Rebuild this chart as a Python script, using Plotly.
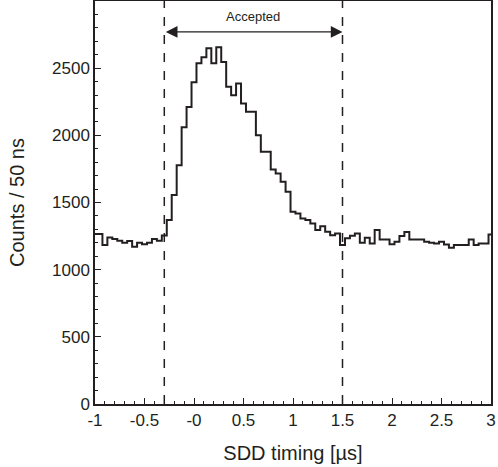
import numpy as np
import plotly.graph_objects as go

# SDD timing histogram, 50 ns bins, centres from -1 to 3 us
bin_centers = np.round(np.arange(-1.0, 3.0001, 0.05), 2)
counts = [
    # -1.00 .. -0.35
    1265, 1265, 1183, 1240, 1228, 1215, 1200, 1213, 1171, 1200, 1190, 1200, 1228, 1215,
    # -0.30 .. 0.65
    1255, 1370, 1555, 1778, 2061, 2210, 2396, 2537, 2582, 2649,
    2537, 2656, 2545, 2361, 2299, 2386, 2237, 2175, 2175, 2001,
    # 0.70 .. 1.40
    1877, 1877, 1746, 1716, 1654, 1580, 1431, 1419, 1381, 1369, 1344, 1295, 1324, 1282, 1257,
    # 1.45 .. 3.00
    1270, 1183, 1233, 1252, 1270, 1200, 1238, 1195, 1295, 1225, 1225, 1190, 1208, 1250, 1280, 1225,
    1225, 1225, 1208, 1200, 1195, 1208, 1188, 1163, 1183, 1183, 1183, 1225, 1183, 1195, 1195, 1262,
]

window = [-0.3, 1.5]
x_ticks = [-1, -0.5, 0, 0.5, 1, 1.5, 2, 2.5, 3]
x_ticktext = ["-1", "-0.5", "-0", "0.5", "1", "1.5", "2", "2.5", "3"]
y_ticks = [0, 500, 1000, 1500, 2000, 2500]

FONT = "Liberation Sans, Arial, sans-serif"
INK = "#231f20"

fig = go.Figure()

fig.add_trace(go.Scatter(
    x=bin_centers, y=counts,
    mode="lines",
    line=dict(color=INK, width=2, shape="hvh"),
    hoverinfo="x+y",
))

for xv in window:
    fig.add_shape(
        type="line", xref="x", yref="y",
        x0=xv, x1=xv, y0=0, y1=3000,
        line=dict(color=INK, width=1.5, dash="dash"),
    )

# double-headed arrow marking the accepted window
fig.add_annotation(
    x=window[1], y=2770, ax=window[0], ay=2770,
    xref="x", yref="y", axref="x", ayref="y",
    text="", showarrow=True,
    arrowhead=2, arrowsize=1.8, arrowwidth=1.3, arrowcolor=INK,
    arrowside="end+start",
)
fig.add_annotation(
    x=sum(window) / 2, y=2885, xref="x", yref="y",
    text="Accepted", showarrow=False,
    font=dict(size=13, color=INK, family=FONT),
)

axis_common = dict(
    showline=True, linecolor=INK, linewidth=1.5, mirror=True,
    ticks="inside", ticklen=6, tickwidth=1.2, tickcolor=INK,
    showgrid=False, zeroline=False, automargin=False,
    tickfont=dict(size=17, color=INK, family=FONT),
)

fig.update_layout(
    width=498, height=467,
    margin=dict(l=95, r=7, t=1, b=63),
    paper_bgcolor="white", plot_bgcolor="white",
    showlegend=False,
    xaxis=dict(
        **axis_common,
        range=[-1, 3],
        tickvals=x_ticks, ticktext=x_ticktext,
        minor=dict(dtick=0.1, ticks="inside", ticklen=3, tickcolor=INK, tickwidth=1),
        title=dict(text="SDD timing [µs]", font=dict(size=20, color=INK, family=FONT), standoff=17),
    ),
    yaxis=dict(
        **axis_common,
        range=[0, 3000],
        tickvals=y_ticks,
        minor=dict(dtick=100, ticks="inside", ticklen=3, tickcolor=INK, tickwidth=1),
        title=dict(text="Counts / 50 ns", font=dict(size=20, color=INK, family=FONT), standoff=22),
    ),
)

# drop the default page margin so the figure sits flush in the window
fig.write_html(
    "out.html",
    config={"displayModeBar": False},
    post_script="document.body.style.margin = '0';",
)
